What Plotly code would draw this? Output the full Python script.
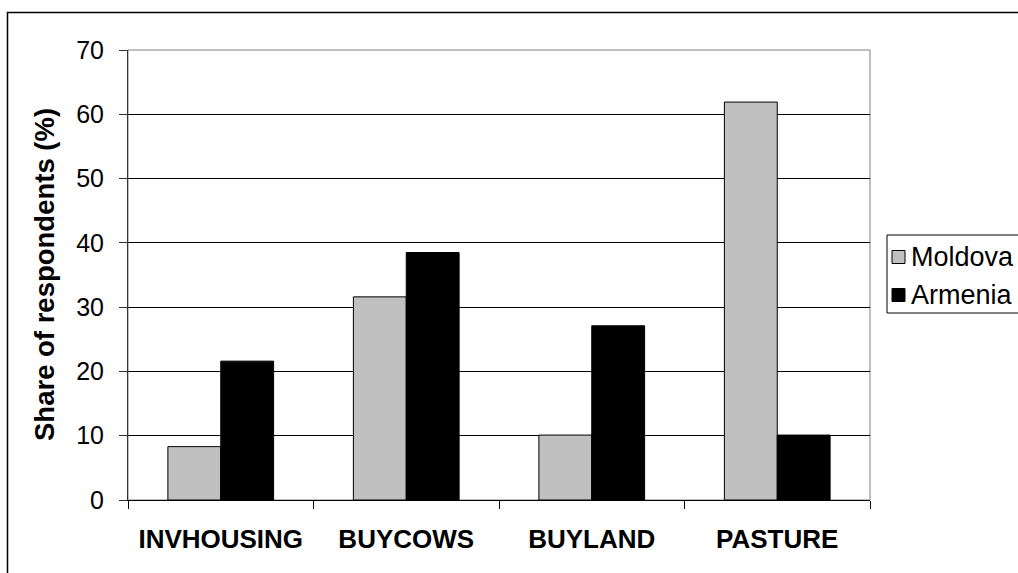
import plotly.graph_objects as go

categories = ["INVHOUSING", "BUYCOWS", "BUYLAND", "PASTURE"]
moldova = [8.3, 31.6, 10.1, 61.9]
armenia = [21.6, 38.5, 27.1, 10.1]
y_ticks = [0, 10, 20, 30, 40, 50, 60, 70]
series_names = ["Moldova", "Armenia"]
series_colors = ["#C0C0C0", "#000000"]

W, H = 1018, 573
L, R, T, B = 128, 870, 50, 500
pw, ph = R - L, B - T

def px(x):
    return (x - L) / pw

def py(y):
    return (B - y) / ph

fig = go.Figure()
for name, vals, col in zip(series_names, [moldova, armenia], series_colors):
    fig.add_trace(go.Bar(x=categories, y=vals, name=name,
                         marker=dict(color=col, line=dict(color="#000000", width=1))))

fig.update_layout(
    width=W, height=H,
    margin=dict(l=L, r=W - R, t=T, b=H - B, pad=0, autoexpand=False),
    paper_bgcolor="white", plot_bgcolor="white",
    barmode="group", bargap=0.43, bargroupgap=0,
    font=dict(family="Liberation Sans, Arial, sans-serif", color="#000000", size=25),
    showlegend=False,
)

fig.update_xaxes(
    type="category", showline=True, linecolor="#000000", linewidth=1,
    ticks="outside", tickson="boundaries", ticklen=8, tickcolor="#000000",
    tickfont=dict(size=26),
    ticklabelstandoff=16, showgrid=False,
    tickmode="array", tickvals=categories,
    ticktext=["<b>%s</b>" % c for c in categories],
)
fig.update_yaxes(
    range=[0, 70], tickvals=y_ticks, ticktext=[str(v) for v in y_ticks],
    showline=True, linecolor="#333333", linewidth=1,
    ticks="outside", ticklen=8, tickcolor="#333333",
    showgrid=True, gridcolor="#000000", gridwidth=1,
    zeroline=False, tickfont=dict(size=25), ticklabelstandoff=10,
)

fig.add_annotation(
    x=px(44), y=0.5, xref="paper", yref="paper", showarrow=False,
    text="<b>Share of respondents (%)</b>", textangle=-90,
    font=dict(size=27.5), xanchor="center", yanchor="middle",
)

# plot area border (grey) and outer chart border (black)
fig.add_shape(type="rect", xref="paper", yref="paper", x0=0, y0=0, x1=1, y1=1,
              line=dict(color="#808080", width=1), layer="below")
fig.add_shape(type="rect", xref="paper", yref="paper",
              x0=px(7.5), y0=py(12.5), x1=px(1030), y1=py(590),
              line=dict(color="#000000", width=1.5))

# legend box drawn manually
fig.add_shape(type="rect", xref="paper", yref="paper",
              x0=px(887), y0=py(313), x1=px(1030), y1=py(235),
              line=dict(color="#000000", width=1), fillcolor="white")
legend_y = [257, 295]
for name, col, yc in zip(series_names, series_colors, legend_y):
    fig.add_shape(type="rect", xref="paper", yref="paper",
                  x0=px(892), y0=py(yc + 6.5), x1=px(905), y1=py(yc - 6.5),
                  line=dict(color="#000000", width=1), fillcolor=col)
    fig.add_annotation(x=px(909), y=py(yc), xref="paper", yref="paper",
                       text=name, showarrow=False, xanchor="left", yanchor="middle",
                       font=dict(size=27))

fig.write_html("out.html")
